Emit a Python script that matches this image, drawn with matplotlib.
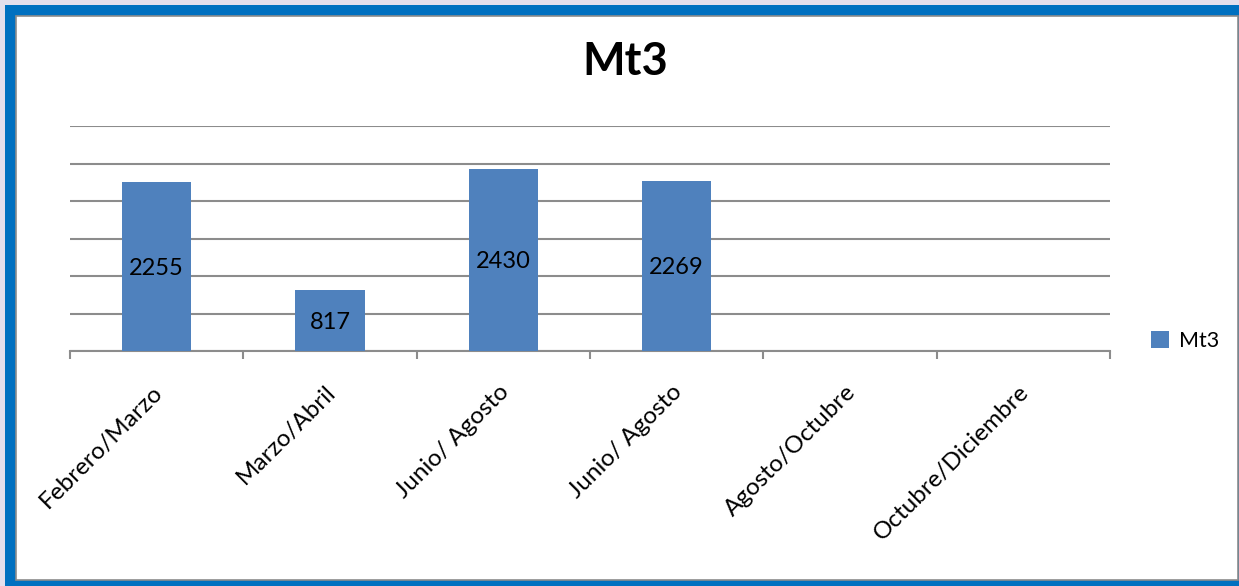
import matplotlib.pyplot as plt
import matplotlib.patches as patches
import numpy as np

# datos del grafico
periodos = ['Febrero/Marzo', 'Marzo/Abril', 'Junio/ Agosto', 'Junio/ Agosto',
            'Agosto/Octubre', 'Octubre/Diciembre']
mt3 = [2255, 817, 2430, 2269, np.nan, np.nan]

W, H = 1239, 586
plt.rcParams['font.family'] = ['Lato', 'DejaVu Sans']

fig = plt.figure(figsize=(W / 100, H / 100), dpi=100)
fig.patch.set_facecolor('#E4DFEC')

# marco azul y fondo blanco
fig.patches.append(patches.Rectangle((5 / W, 0), 1, (H - 5) / H, transform=fig.transFigure,
                                     facecolor='#0070C0', edgecolor='none', zorder=-10))
fig.patches.append(patches.Rectangle((16 / W, 6 / H), (1238 - 16) / W, (580 - 16) / H,
                                     transform=fig.transFigure, facecolor='white',
                                     edgecolor='#8C8C8C', linewidth=1.2, zorder=-9))

ax = fig.add_axes([70 / W, 1 - 351 / H, (1110 - 70) / W, (351 - 126) / H])
ax.set_facecolor('none')
ax.set_zorder(1)

x = np.arange(len(periodos))
bars = ax.bar(x, mt3, width=0.4, color='#4F81BD', zorder=3, label='Mt3')

for xi, v in zip(x, mt3):
    if not np.isnan(v):
        ax.text(xi, v / 2, f'{int(v)}', ha='center', va='center_baseline', fontsize=17,
                color='black', zorder=4)

ax.set_xlim(-0.5, len(periodos) - 0.5)
ax.set_ylim(0, 3000)
ax.set_yticks(np.arange(0, 3001, 500))
ax.set_yticklabels([])
ax.tick_params(axis='y', length=0)
ax.grid(axis='y', color='#8C8C8C', linewidth=1.5, zorder=0)

# marcas del eje x en los limites de cada categoria
ax.set_xticks(np.arange(-0.5, len(periodos), 1.0))
ax.set_xticklabels([])
ax.tick_params(axis='x', direction='out', length=6, width=1.5, color='#8C8C8C')
ax.set_xticks(x - 0.03, minor=True)
ax.set_xticklabels(periodos, minor=True, rotation=45, ha='right', va='top',
                   rotation_mode='anchor', fontsize=17.5)
ax.tick_params(axis='x', which='minor', length=0, pad=22)

for s in ['top', 'right', 'left']:
    ax.spines[s].set_visible(False)
ax.spines['bottom'].set_color('#8C8C8C')
ax.spines['bottom'].set_linewidth(1.5)

fig.text(625 / W, 1 - 62 / H, 'Mt3', ha='center', va='center', fontsize=32.5,
         fontweight='bold')

fig.legend(handles=[bars], labels=['Mt3'], loc='center left',
           bbox_to_anchor=(1132 / W, 1 - 341 / H), frameon=False, fontsize=15.5,
           handlelength=0.8, handleheight=0.8, handletextpad=0.5)

fig.savefig('out.png', dpi=100, facecolor=fig.get_facecolor())
